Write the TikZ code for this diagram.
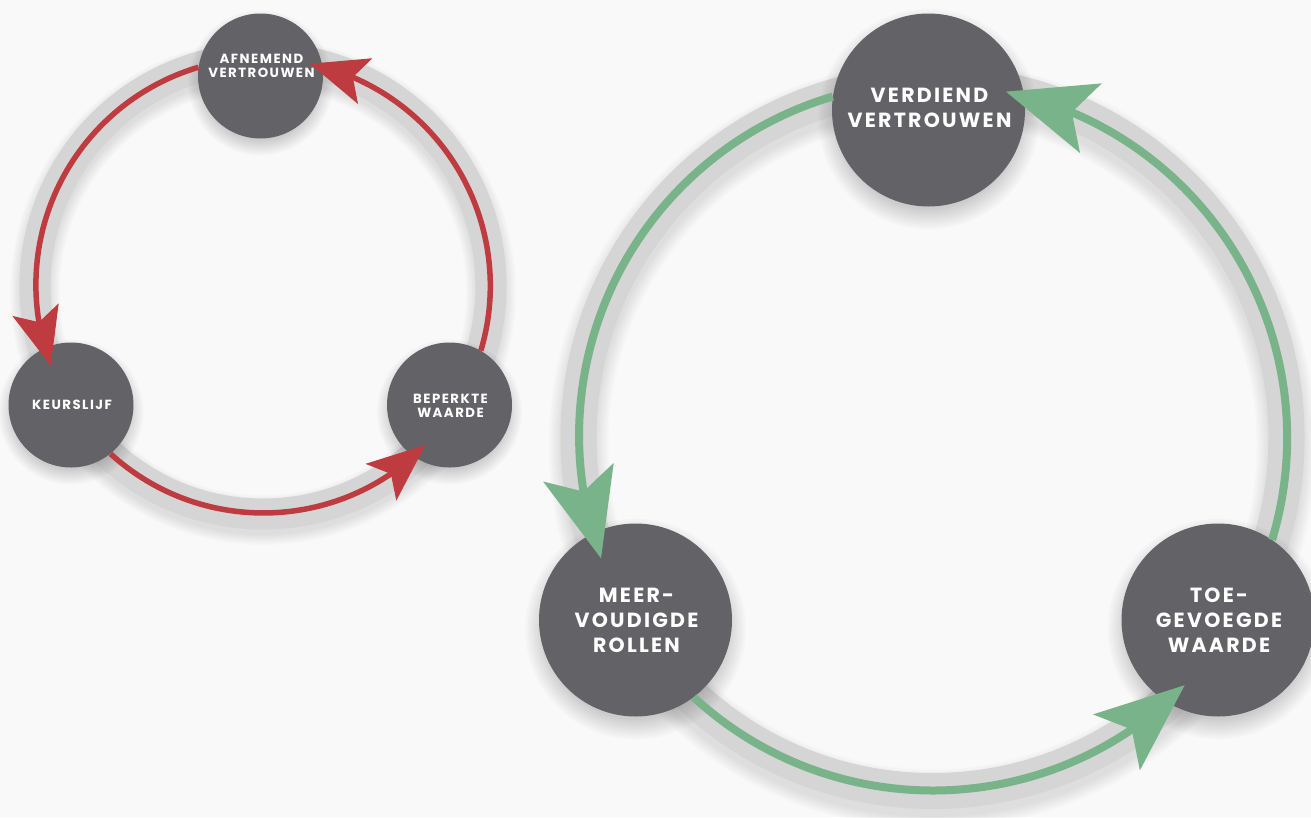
\documentclass[tikz,border=0pt]{standalone}
\usepackage{fontspec}
\setmainfont{Poppins}
\newfontfamily\labfont{Poppins}[LetterSpace=11]
\usetikzlibrary{arrows.meta,bending,calc}
\definecolor{bg}{HTML}{F9F9F9}
\definecolor{nodegray}{HTML}{636266}
\definecolor{ringgray}{HTML}{D5D5D5}
\definecolor{myred}{HTML}{BE3B3F}
\definecolor{mygreen}{HTML}{78B389}
\tikzset{
  smallnode/.style={circle, fill=nodegray, minimum size=125pt, inner sep=0pt},
  bignode/.style={circle, fill=nodegray, minimum size=193pt, inner sep=0pt},
  smalltext/.style={text=white, inner sep=0pt, align=center, font=\labfont\bfseries\fontsize{13.3}{14.5}\selectfont},
  bigtext/.style={text=white, inner sep=0pt, align=center, font=\labfont\bfseries\fontsize{20.5}{25}\selectfont},
  redarc/.style={draw=myred, line width=5.5pt, -{Stealth[length=58pt, width=48pt, inset=13pt, line width=0pt]}},
  greenarc/.style={draw=mygreen, line width=8pt, -{Stealth[length=89pt, width=73pt, inset=20pt, line width=0pt]}},
}
\begin{document}
\begin{tikzpicture}[x=1pt,y=-1pt]
\useasboundingbox (0,0) rectangle (1311,817);
\fill[bg] (0,0) rectangle (1311,817);
% centres
\coordinate (CL) at (263,286);
\coordinate (CR) at (932.5,437);
\coordinate (afn-c) at (260.5,76);
\coordinate (keu-c) at (71,405);
\coordinate (bep-c) at (449.5,405);
\coordinate (verd-c) at (928.5,110);
\coordinate (meer-c) at (635.5,620);
\coordinate (toe-c) at (1218,620);
% ring shadows
\foreach \k in {0,...,8}{
  \draw[black, opacity=0.012, line width={(30+2.5*\k)*1pt}] ($(CL)+(0,6)$) circle[radius=228];
  \draw[black, opacity=0.012, line width={(36+3*\k)*1pt}] ($(CR)+(0,8)$) circle[radius=354];
}
% rings
\draw[ringgray, line width=31pt] (CL) circle[radius=228];
\draw[ringgray, line width=36pt] (CR) circle[radius=354];
% node shadows
\foreach \k in {0,...,8}{
  \foreach \p in {afn-c,keu-c,bep-c}{
    \fill[black, opacity=0.018] ($(\p)+(0,7)$) circle[radius={58+1.8*\k}];
  }
  \foreach \p in {verd-c,meer-c,toe-c}{
    \fill[black, opacity=0.018] ($(\p)+(0,9)$) circle[radius={91+2.4*\k}];
  }
}
% nodes
\node[smallnode] (afn) at (afn-c) {};
\node[smallnode] (keu) at (keu-c) {};
\node[smallnode] (bep) at (bep-c) {};
\node[bignode] (verd) at (verd-c) {};
\node[bignode] (meer) at (meer-c) {};
\node[bignode] (toe) at (toe-c) {};
% texts
\node[smalltext] (afn-t) at (261.5,66) {AFNEMEND\\VERTROUWEN};
\node[smalltext] (keu-t) at (72,405) {KEURSLIJF};
\node[smalltext] (bep-t) at (450.5,406) {BEPERKTE\\WAARDE};
\node[bigtext] (verd-t) at (929.5,107.5) {VERDIEND\\VERTROUWEN};
\node[bigtext] (meer-t) at (636.5,620) {MEER-\\VOUDIGDE\\ROLLEN};
\node[bigtext] (toe-t) at (1219,620) {TOE-\\GEVOEGDE\\WAARDE};
% red cycle
\draw[redarc] (afn.172.9) arc[start angle=253.5, end angle=159.18, radius=227];
\draw[redarc] (keu.-51.3) arc[start angle=132.35, end angle=44.47, radius=227];
\draw[redarc] (bep.60.2) arc[start angle=16.6, end angle=-78.15, radius=227];
% green cycle
\draw[greenarc] (verd.172.8) arc[start angle=253.6, end angle=159.7, radius=353.5];
\draw[greenarc] (meer.-53.2) arc[start angle=132.6, end angle=44.6, radius=353.5];
\draw[greenarc] (toe.56.8) arc[start angle=16.8, end angle=-78.2, radius=353.5];
\end{tikzpicture}
\end{document}
